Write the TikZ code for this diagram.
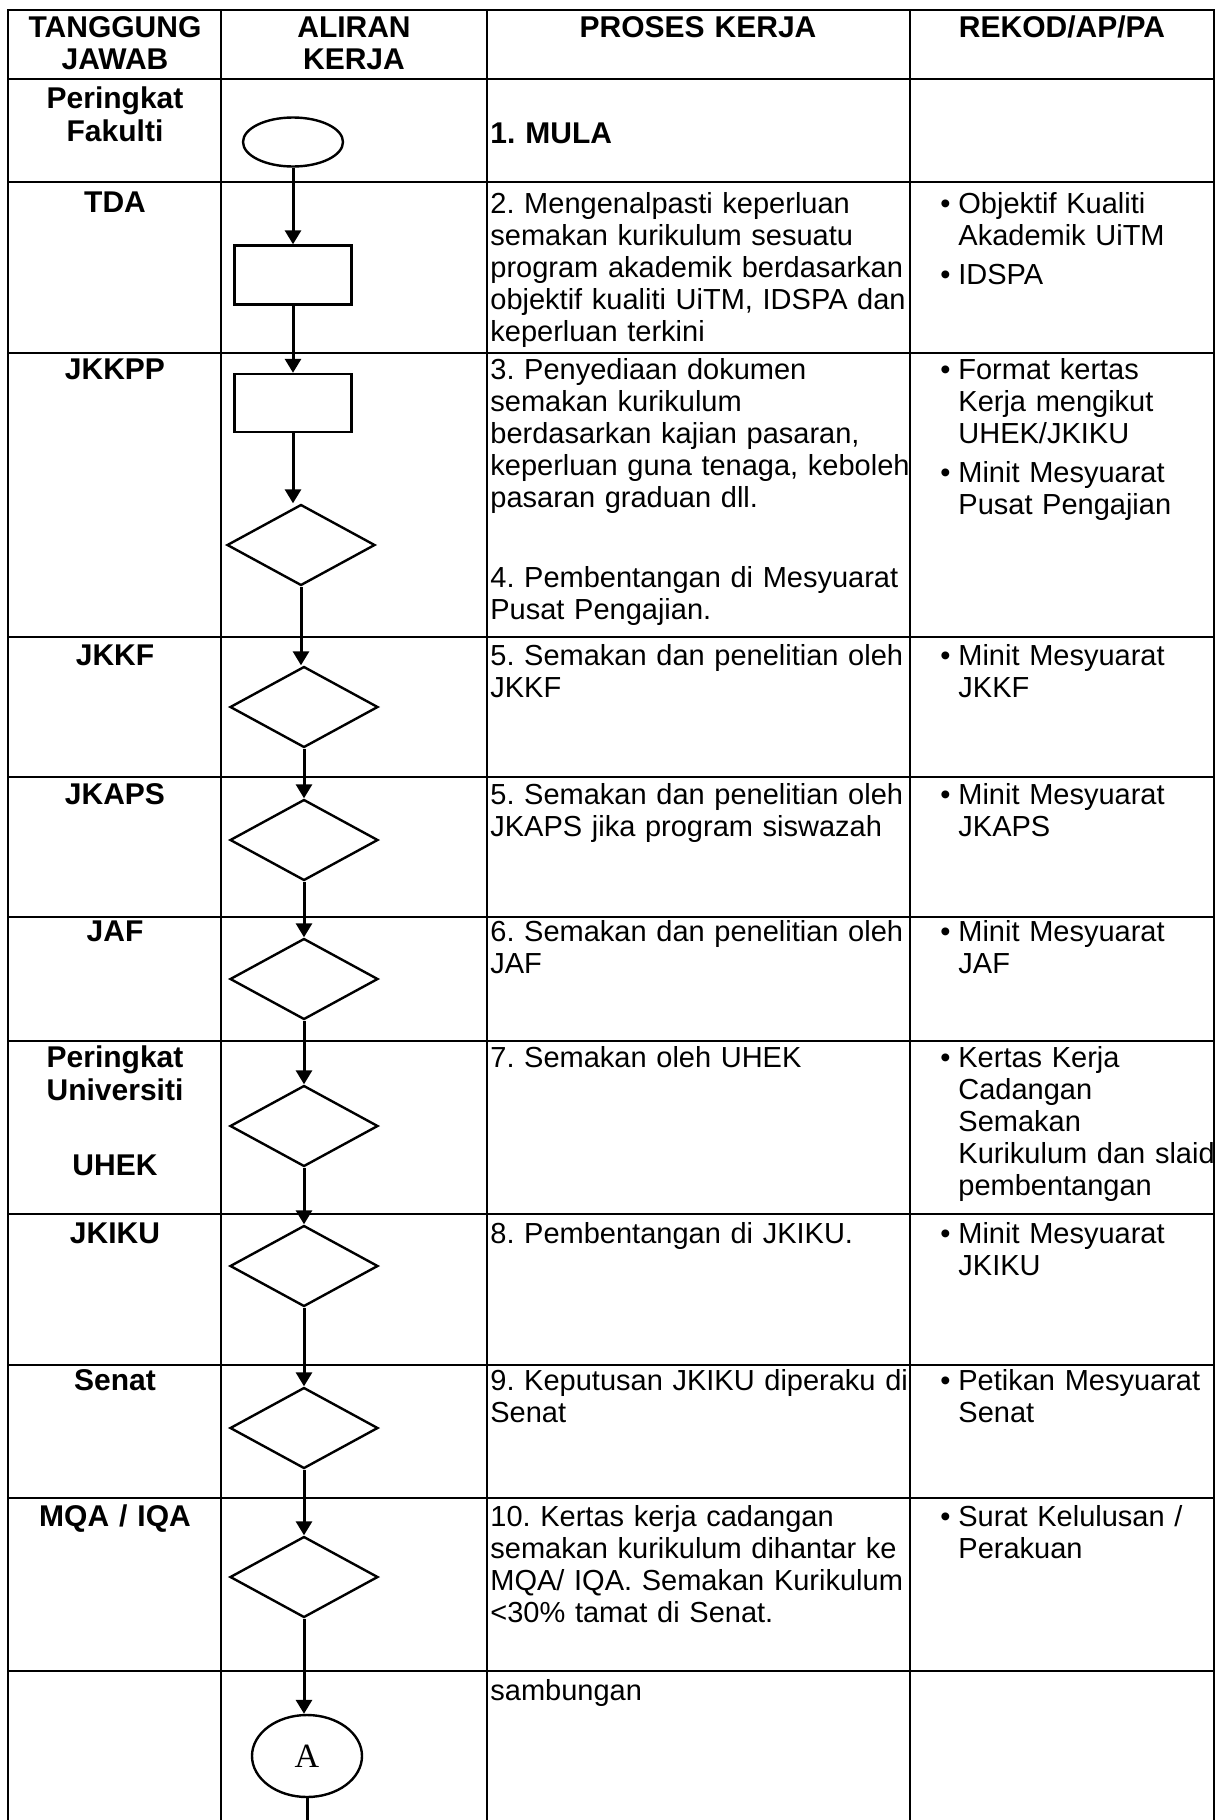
\documentclass[tikz,border=0pt]{standalone}
\usepackage{fontspec}
\setmainfont{Liberation Sans}
\newfontfamily\serifA{Liberation Serif}
\usetikzlibrary{arrows.meta,shapes.geometric}
\frenchspacing
\newcommand{\rbul}{\makebox[9pt][l]{\textbullet}}
\newcommand{\rind}{\hspace*{9pt}}
\tikzset{
    tabline/.style={line width=1.3pt,line cap=rect},
    flow/.style={line width=1.5pt,-{Triangle[length=7pt,width=8pt]}},
    shp/.style={draw,line width=1.2pt,inner sep=0pt},
    semak/.style={shp,diamond,minimum width=74pt,minimum height=40.5pt},
    lane/.style={font=\bfseries\fontsize{15pt}{16.5pt}\selectfont,text width=104pt,align=center,anchor=base,inner sep=0pt},
    proses/.style={font=\fontsize{14.5pt}{16pt}\selectfont,text width=212pt,align=left,anchor=base west,inner sep=0pt},
    rekod/.style={proses,text width=138pt},
}

\begin{document}
\begin{tikzpicture}[x=0.5pt,y=-0.5pt]
    \useasboundingbox (0,0) rectangle (1221,1820);
    \foreach \y in {10,79,182,353,637,777,917,1041,1214,1365,1498,1671}
        \draw[tabline] (8,\y) -- (1214,\y);
    \foreach \x in {8,221,487,910,1214}
        \draw[tabline] (\x,10) -- (\x,1820);

    \node[lane] (hTJ) at (115,37) {TANGGUNG\\JAWAB};
    \node[lane] (hAK) at (354,37) {ALIRAN\\KERJA};
    \node[lane,text width=200pt] (hPK) at (698,37) {PROSES KERJA};
    \node[lane,text width=150pt] (hRK) at (1062,37) {REKOD/AP/PA};

    \node[lane] (lFak) at (115,108) {Peringkat\\Fakulti};
    \node[lane] (lTDA) at (115,212) {TDA};
    \node[lane] (lJKKPP) at (115,379) {JKKPP};
    \node[lane] (lJKKF) at (115,665) {JKKF};
    \node[lane] (lJKAPS) at (115,804) {JKAPS};
    \node[lane] (lJAF) at (115,941) {JAF};
    \node[lane] (lUni) at (115,1067) {Peringkat\\Universiti\\[21pt]UHEK};
    \node[lane] (lJKIKU) at (115,1243) {JKIKU};
    \node[lane] (lSenat) at (115,1390) {Senat};
    \node[lane] (lMQA) at (115,1526) {MQA / IQA};

    \node[proses,font=\bfseries\fontsize{15pt}{16pt}\selectfont] (p1) at (490,143) {1. MULA};
    \node[proses] (p2) at (490,213) {2. Mengenalpasti keperluan\\semakan kurikulum sesuatu\\program akademik berdasarkan\\objektif kualiti UiTM, IDSPA dan\\keperluan terkini};
    \node[proses] (p3) at (490,379) {3. Penyediaan dokumen\\semakan kurikulum\\berdasarkan kajian pasaran,\\keperluan guna tenaga, keboleh\\pasaran graduan dll.\\[24pt]4. Pembentangan di Mesyuarat\\Pusat Pengajian.};
    \node[proses] (p5) at (490,665) {5. Semakan dan penelitian oleh\\JKKF};
    \node[proses] (p5b) at (490,804) {5. Semakan dan penelitian oleh\\JKAPS jika program siswazah};
    \node[proses] (p6) at (490,941) {6. Semakan dan penelitian oleh\\JAF};
    \node[proses] (p7) at (490,1067) {7. Semakan oleh UHEK};
    \node[proses] (p8) at (490,1243) {8. Pembentangan di JKIKU.};
    \node[proses] (p9) at (490,1390) {9. Keputusan JKIKU diperaku di\\Senat};
    \node[proses] (p10) at (490,1526) {10. Kertas kerja cadangan\\semakan kurikulum dihantar ke\\MQA/ IQA. Semakan Kurikulum\\<30\% tamat di Senat.};
    \node[proses] (psamb) at (490,1700) {sambungan};

    \node[rekod] (r2) at (940,213) {\rbul Objektif Kualiti\\\rind Akademik UiTM\\[3.5pt]\rbul IDSPA};
    \node[rekod] (r3) at (940,379) {\rbul Format kertas\\\rind Kerja mengikut\\\rind UHEK/JKIKU\\[3.5pt]\rbul Minit Mesyuarat\\\rind Pusat Pengajian};
    \node[rekod] (r5) at (940,665) {\rbul Minit Mesyuarat\\\rind JKKF};
    \node[rekod] (r5b) at (940,804) {\rbul Minit Mesyuarat\\\rind JKAPS};
    \node[rekod] (r6) at (940,941) {\rbul Minit Mesyuarat\\\rind JAF};
    \node[rekod] (r7) at (940,1067) {\rbul Kertas Kerja\\\rind Cadangan\\\rind Semakan\\\rind Kurikulum dan slaid\\\rind pembentangan};
    \node[rekod] (r8) at (940,1243) {\rbul Minit Mesyuarat\\\rind JKIKU};
    \node[rekod] (r9) at (940,1390) {\rbul Petikan Mesyuarat\\\rind Senat};
    \node[rekod] (r10) at (940,1526) {\rbul Surat Kelulusan /\\\rind Perakuan};

    \node[shp,ellipse,minimum width=50pt,minimum height=24.5pt] (mula) at (293,142) {};
    \node[shp,minimum width=58.5pt,minimum height=29.5pt] (kenal) at (293,275) {};
    \node[shp,minimum width=58.5pt,minimum height=29pt] (sedia) at (293,403) {};
    \node[semak] (bentang) at (301,545) {};
    \node[semak] (jkkf) at (304,707) {};
    \node[semak] (jkaps) at (304,840) {};
    \node[semak] (jaf) at (304,979) {};
    \node[semak] (uhek) at (304,1126) {};
    \node[semak] (jkiku) at (304,1266) {};
    \node[semak] (senat) at (304,1428) {};
    \node[semak] (mqa) at (304,1577) {};
    \node[shp,ellipse,minimum width=55pt,minimum height=41pt,font=\serifA\fontsize{17pt}{17pt}\selectfont] (A) at (307,1756) {A};
    \coordinate (Abawah) at (307,1820);

    \draw[flow] (mula) -- (kenal);
    \draw[flow] (kenal) -- (sedia);
    \draw[flow] (sedia.south) -- (sedia.south |- bentang.north);
    \draw[flow] (bentang.south) -- (bentang.south |- jkkf.north);
    \foreach \a/\b in {jkkf/jkaps,jkaps/jaf,jaf/uhek,uhek/jkiku,jkiku/senat,senat/mqa}
        \draw[flow] (\a) -- (\b);
    \draw[flow] (mqa.south) -- (mqa.south |- A.north);
    \draw[line width=1.5pt] (A) -- (Abawah);
\end{tikzpicture}
\end{document}
